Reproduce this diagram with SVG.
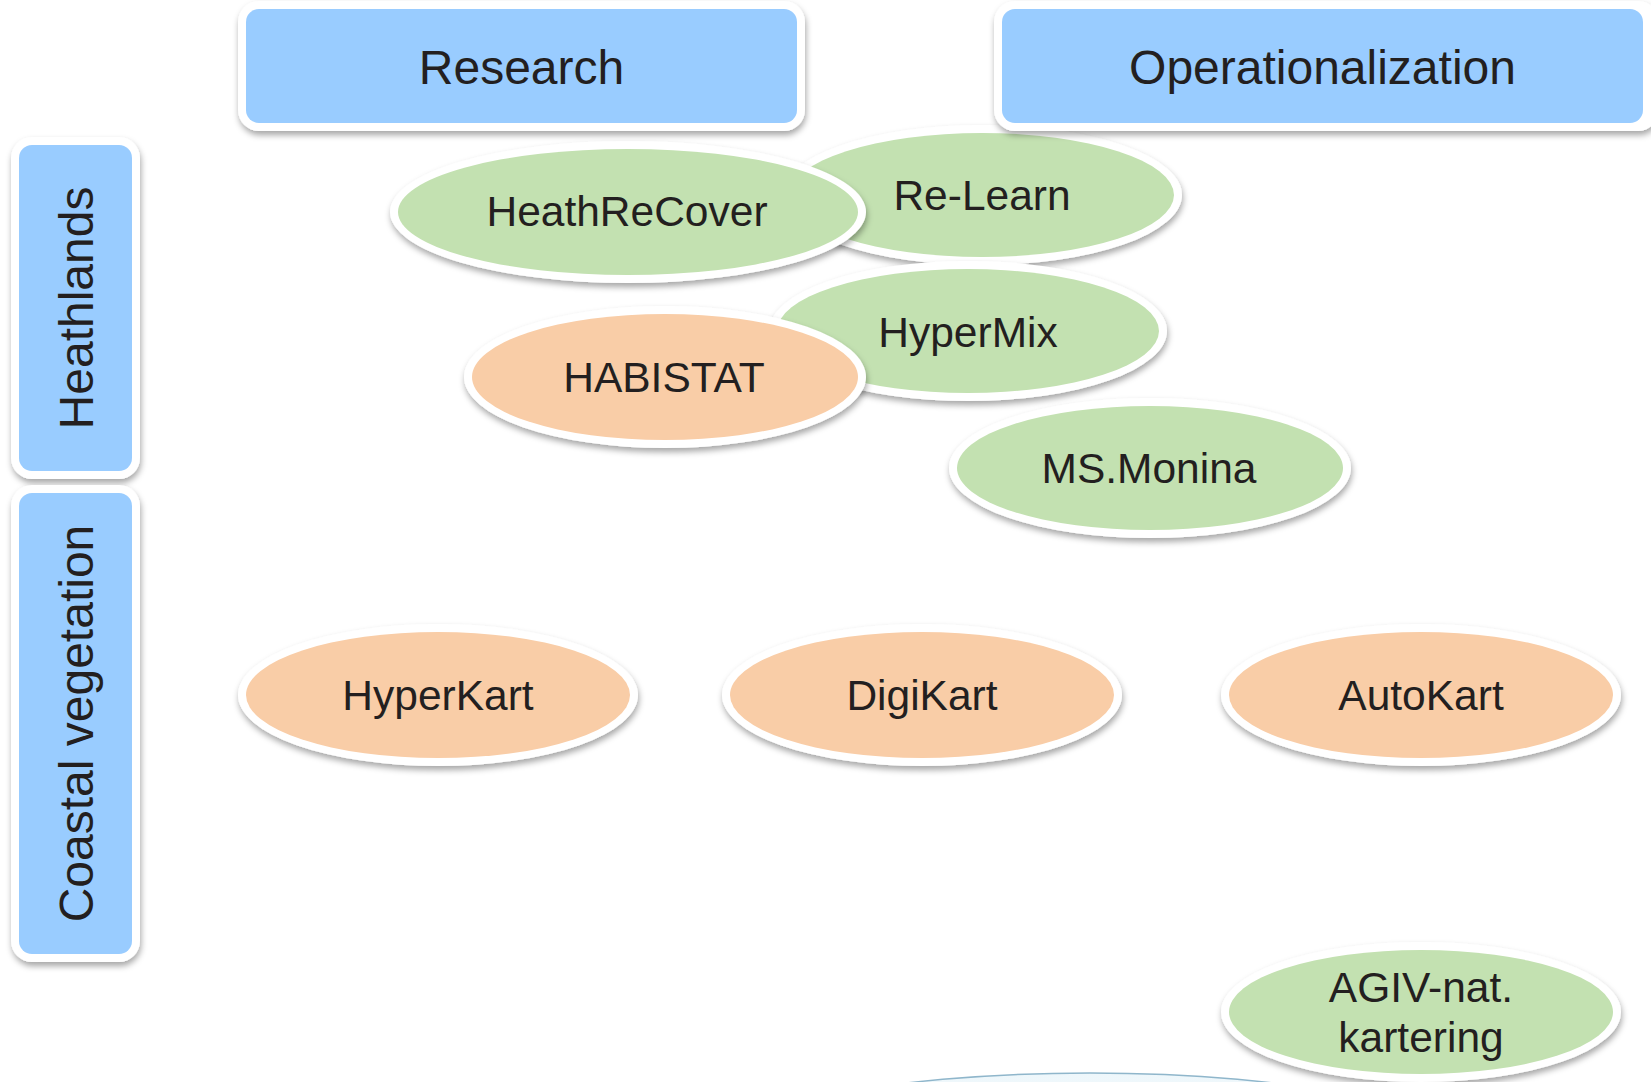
<svg xmlns="http://www.w3.org/2000/svg" width="1651" height="1082" viewBox="0 0 1651 1082">
  <defs>
    <filter id="sh" x="-10%" y="-20%" width="120%" height="150%">
      <feDropShadow dx="1" dy="4" stdDeviation="3" flood-color="#000" flood-opacity="0.35"/>
    </filter>
    <linearGradient id="arcfill" x1="0" y1="0" x2="0" y2="1">
      <stop offset="0" stop-color="#eef7fb"/>
      <stop offset="1" stop-color="#ffffff"/>
    </linearGradient>
  </defs>
  <style>
    .edge { fill: #ffffff; filter: url(#sh); }
    .blue { fill: #99ccff; }
    .green { fill: #c3e1b1; }
    .orange { fill: #f9cda7; }
    text { font-family: "Liberation Sans", Arial, sans-serif; fill: #231f20; text-anchor: middle; }
    .hdr { font-size: 48px; }
    .lbl { font-size: 42.5px; }
  </style>
  <rect width="1651" height="1082" fill="#ffffff"/>

  <g id="arc">
    <ellipse cx="1090" cy="1163" rx="400" ry="90" fill="url(#arcfill)" stroke="#8fb6cb" stroke-width="1.5"/>
  </g>

  <g id="relearn">
    <ellipse class="edge" cx="982" cy="195" rx="200" ry="70"/>
    <ellipse class="green" cx="982" cy="195" rx="192" ry="62"/>
    <text class="lbl" x="982" y="210">Re-Learn</text>
  </g>
  <g id="heathrecover">
    <ellipse class="edge" cx="628" cy="212" rx="238" ry="71"/>
    <ellipse class="green" cx="628" cy="212" rx="230" ry="63"/>
    <text class="lbl" x="627" y="226">HeathReCover</text>
  </g>
  <g id="hypermix">
    <ellipse class="edge" cx="968" cy="331" rx="199" ry="70"/>
    <ellipse class="green" cx="968" cy="331" rx="191" ry="62"/>
    <text class="lbl" x="968" y="347">HyperMix</text>
  </g>
  <g id="habistat">
    <ellipse class="edge" cx="665" cy="377" rx="201" ry="71"/>
    <ellipse class="orange" cx="665" cy="377" rx="193" ry="63"/>
    <text class="lbl" x="664" y="392">HABISTAT</text>
  </g>
  <g id="msmonina">
    <ellipse class="edge" cx="1150" cy="468" rx="201" ry="70"/>
    <ellipse class="green" cx="1150" cy="468" rx="193" ry="62"/>
    <text class="lbl" x="1149" y="483">MS.Monina</text>
  </g>
  <g id="hyperkart">
    <ellipse class="edge" cx="438" cy="695" rx="200" ry="71"/>
    <ellipse class="orange" cx="438" cy="695" rx="192" ry="63"/>
    <text class="lbl" x="438" y="710">HyperKart</text>
  </g>
  <g id="digikart">
    <ellipse class="edge" cx="922" cy="695" rx="200" ry="71"/>
    <ellipse class="orange" cx="922" cy="695" rx="192" ry="63"/>
    <text class="lbl" x="922" y="710">DigiKart</text>
  </g>
  <g id="autokart">
    <ellipse class="edge" cx="1421" cy="695" rx="200" ry="71"/>
    <ellipse class="orange" cx="1421" cy="695" rx="192" ry="63"/>
    <text class="lbl" x="1421" y="710">AutoKart</text>
  </g>
  <g id="agiv">
    <ellipse class="edge" cx="1421" cy="1012" rx="200" ry="70"/>
    <ellipse class="green" cx="1421" cy="1012" rx="192" ry="62"/>
    <text class="lbl" x="1421" y="1002">AGIV-nat.</text>
    <text class="lbl" x="1421" y="1052">kartering</text>
  </g>

  <g id="research">
    <rect class="edge" x="238" y="1" width="567" height="130" rx="21"/>
    <rect class="blue" x="246" y="9" width="551" height="114" rx="13"/>
    <text class="hdr" x="521.5" y="84">Research</text>
  </g>
  <g id="operationalization">
    <rect class="edge" x="994" y="1" width="665" height="130" rx="21"/>
    <rect class="blue" x="1002" y="9" width="641" height="114" rx="13"/>
    <text class="hdr" x="1322.5" y="84">Operationalization</text>
  </g>
  <g id="heathlands">
    <rect class="edge" x="11" y="137" width="129" height="342" rx="21"/>
    <rect class="blue" x="19" y="145" width="113" height="326" rx="13"/>
    <text class="hdr" transform="translate(93,308) rotate(-90)">Heathlands</text>
  </g>
  <g id="coastal">
    <rect class="edge" x="11" y="485" width="129" height="477" rx="21"/>
    <rect class="blue" x="19" y="493" width="113" height="461" rx="13"/>
    <text class="hdr" transform="translate(93,723.5) rotate(-90)">Coastal vegetation</text>
  </g>

  <g id="connectors"></g>
</svg>
